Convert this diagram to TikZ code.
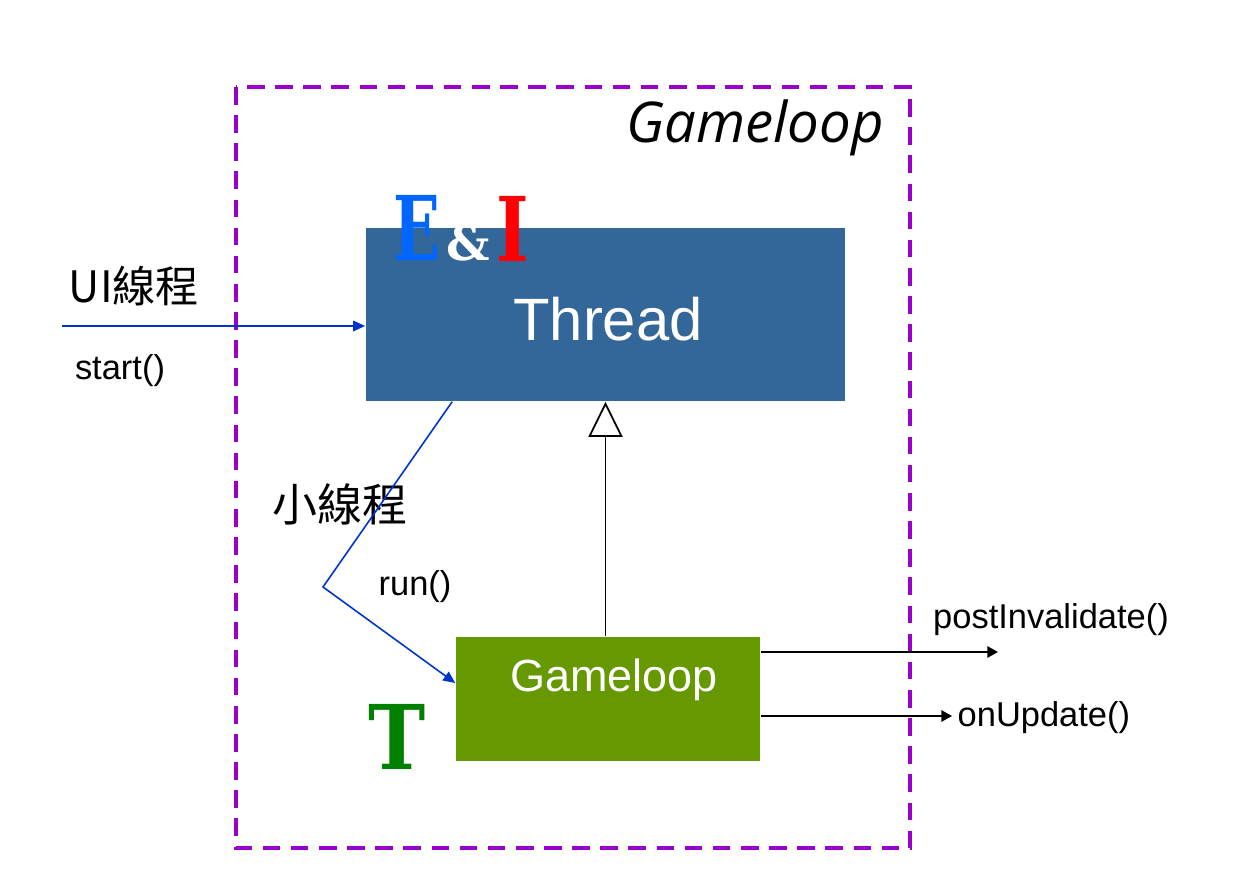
\documentclass[tikz,border=0pt]{standalone}
\usepackage{fontspec}
\setmainfont{Liberation Sans}
\newfontfamily\cjk{Noto Sans CJK TC}
\newfontfamily\titlefont{Open Sans}
\newfontfamily\logofont{DejaVu Serif}
\usepackage{xcolor}
\usepackage{tikz}
\usetikzlibrary{calc}
\usetikzlibrary{arrows.meta}

\definecolor{threadBlue}{RGB}{51,102,153}
\definecolor{loopGreen}{RGB}{102,153,0}
\definecolor{framePurple}{RGB}{153,0,204}
\definecolor{lineBlue}{RGB}{0,51,204}
\definecolor{logoBlue}{RGB}{0,102,255}
\definecolor{logoRed}{RGB}{255,0,0}
\definecolor{logoGreen}{RGB}{0,128,0}

\begin{document}
\begin{tikzpicture} [x=0.01cm, y=-0.01cm,
        classbox/.style={inner sep=0pt, text=white},
        msg/.style={inner sep=0pt, font=\fontsize{9.8}{12}\selectfont},
        bigtext/.style={inner sep=0pt, font=\cjk\fontsize{12.3}{14}\selectfont},
        logo/.style={inner sep=0pt, font=\logofont\bfseries\fontsize{25.4}{26}\selectfont},
        callline/.style={draw=lineBlue, line width=0.45pt, -{Triangle[length=3.4pt, width=3pt]}},
        outline/.style={draw=black, line width=0.5pt, -{Triangle[length=3pt, width=3.2pt]}}]

        \useasboundingbox (0,0) rectangle (1236,894);

        % frame of the class
        \draw[framePurple, line width=1.15pt, dash pattern=on 5pt off 3pt] (236,87) rectangle (910,848);
        \node[inner sep=0pt, font=\titlefont\itshape\fontsize{16}{18}\selectfont] (title) at (755,128) {Gameloop};

        % Classes
        \node[classbox, fill=threadBlue, minimum width=4.79cm, minimum height=1.73cm] (thread) at (605.5,314.5) {};
        \node[classbox, font=\fontsize{17}{20}\selectfont] (threadlabel) at (608,319) {Thread};

        \node[classbox, fill=loopGreen, minimum width=3.04cm, minimum height=1.24cm] (loop) at (608,699) {};
        \node[classbox, font=\fontsize{12.8}{15}\selectfont] (looplabel) at (614,680) {Gameloop};

        % Logos
        \node[logo, text=logoBlue] (logoE) at (417,228) {\scalebox{0.69}[1]{E}};
        \node[logo, text=white, font=\logofont\bfseries\fontsize{13.7}{14}\selectfont] (logoAmp) at (468,243) {\&};
        \node[logo, text=logoRed] (logoI) at (513,229) {\scalebox{0.78}[1]{I}};
        \node[logo, text=logoGreen] (logoT) at (397,737) {\scalebox{0.86}[1]{T}};

        % Labels
        \node[bigtext] (uithread) at (134,286) {UI線程};
        \node[msg] (start) at (120,371) {start()};
        \node[bigtext, font=\cjk\fontsize{12.8}{15}\selectfont] (smallthread) at (340,504) {小線程};
        \node[msg] (run) at (415,587) {run()};
        \node[msg] (post) at (1051,620) {postInvalidate()};
        \node[msg, anchor=west] (update) at (957,718) {onUpdate()};

        % free ends
        \coordinate (uistart) at (62,326);
        \coordinate (bend) at (323,587);
        \coordinate (postend) at (998,652);
        \coordinate (updend) at (952,716);

        % Calls
        \draw[callline] (uistart) -- (uistart -| thread.west);
        \draw[callline] ($(thread.south west)+(87,0)$) -- (bend) -- ($(loop.west)+(0,-16)$);

        % inheritance
        \draw[draw=black, line width=0.5pt, -{Triangle[open, fill=white, length=10pt, width=9.7pt]}]
            (loop.north -| thread.south) -- (thread.south);

        % outgoing messages
        \draw[outline] (loop.east |- postend) -- (postend);
        \draw[outline] (loop.east |- updend) -- (updend);

\end{tikzpicture}
\end{document}
